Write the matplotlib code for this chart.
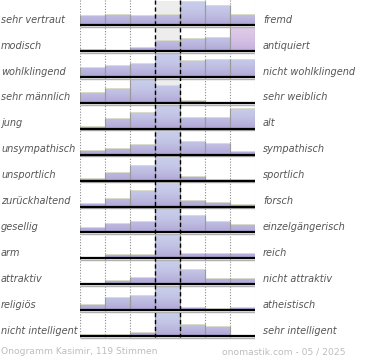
import numpy as np
import matplotlib
matplotlib.use("Agg")
import matplotlib.pyplot as plt
from matplotlib.patches import Rectangle
from matplotlib.transforms import blended_transform_factory

left_labels = ["sehr vertraut", "modisch", "wohlklingend", "sehr männlich", "jung",
               "unsympathisch", "unsportlich", "zurückhaltend", "gesellig", "arm",
               "attraktiv", "religiös", "nicht intelligent"]
right_labels = ["fremd", "antiquiert", "nicht wohlklingend", "sehr weiblich", "alt",
                "sympathisch", "sportlich", "forsch", "einzelgängerisch", "reich",
                "nicht attraktiv", "atheistisch", "sehr intelligent"]

values = [
    [10.3, 11.3, 10.0, 11.3, 24.3, 20.6, 11.6],
    [2.7, 1.3, 4.7, 11.7, 13.7, 15.0, 24.7],
    [9.6, 11.6, 13.6, 24.0, 16.6, 17.6, 18.0],
    [11.0, 15.6, 24.3, 18.3, 2.6, 0.0, 0.0],
    [3.0, 11.3, 16.7, 24.0, 12.3, 12.3, 20.7],
    [4.6, 7.0, 10.6, 24.0, 13.6, 11.6, 3.6],
    [2.7, 8.3, 15.7, 24.0, 4.7, 1.3, 1.3],
    [3.7, 9.0, 17.0, 24.0, 7.0, 5.0, 2.4],
    [5.4, 9.4, 11.4, 24.0, 17.4, 11.7, 8.4],
    [1.5, 4.0, 4.0, 24.0, 5.5, 5.0, 5.0],
    [0.5, 4.7, 7.3, 24.0, 15.0, 6.3, 6.3],
    [6.4, 12.7, 15.0, 24.0, 3.7, 1.7, 3.4],
    [1.7, 1.7, 4.0, 24.0, 11.7, 10.3, 0.0],
]
highlight = [(1, 6)]

footer_left = "Onogramm Kasimir, 119 Stimmen"
footer_right = "onomastik.com - 05 / 2025"

W, H = 370, 360
fig = plt.figure(figsize=(W / 100, H / 100), dpi=100)
row_px = 25.9
top_px, bot_px = 0.0, 345.0
ax = fig.add_axes([80 / W, (H - bot_px) / H, 175 / W, (bot_px - top_px) / H])
y_top = 1 - 25.3 / row_px
y_bot = y_top + (bot_px - top_px) / row_px
ax.set_xlim(0, 7)
ax.set_ylim(y_bot, y_top)
ax.axis("off")

full = 24.0 / row_px
nrow = len(values)

def grad(c_top, c_bot, n=64):
    t = np.linspace(0, 1, n) ** 1.8
    c1 = np.array(matplotlib.colors.to_rgb(c_top))
    c2 = np.array(matplotlib.colors.to_rgb(c_bot))
    g = c1[None, :] * (1 - t[:, None]) + c2[None, :] * t[:, None]
    return g[:, None, :]

g_norm = grad("#c8cdea", "#b0a5d6")
g_pink = grad("#dfc9e8", "#c0aedb")

for xc in [0, 1, 2, 5, 6, 7]:
    ax.vlines(xc, y_top, nrow + 0.05, colors="#8a8a8a", linewidth=0.8,
              linestyles=(0, (1, 1.5)), zorder=1)

for i, row in enumerate(values):
    base = i + 1
    mx = max(row)
    ax.add_patch(Rectangle((3, base - full), 1, full, facecolor="#ededed",
                           edgecolor="none", zorder=1.5))
    for j, v in enumerate(row):
        h = v / mx * full
        if h <= 0:
            continue
        rect = Rectangle((j, base - h), 1, h, transform=ax.transData,
                         facecolor="none", edgecolor="none")
        ax.add_patch(rect)
        g = g_pink if (i, j) in highlight else g_norm
        im = ax.imshow(g, extent=(j, j + 1, base, base - full), origin="upper",
                       aspect="auto", interpolation="bilinear", zorder=2)
        im.set_clip_path(rect)
        ax.plot([j, j + 1], [base - h, base - h], color="#dcdccc", lw=0.7, zorder=2.5)
        ax.vlines([j, j + 1], base - h, base, colors="#9a9a9a", linewidth=0.8, zorder=3)

    ax.plot([0, 7], [base + 1.6 / row_px, base + 1.6 / row_px], color="#b0b0b0",
            lw=1.0, zorder=4, solid_capstyle="butt")
    ax.plot([0, 7], [base, base], color="black", lw=1.6, zorder=5,
            solid_capstyle="butt")

for xc in [3, 4]:
    ax.vlines(xc, y_top, nrow + 0.05, colors="black", linewidth=1.0,
              linestyles=(0, (3, 2)), zorder=4.5)

ax.set_xlim(0, 7)
ax.set_ylim(y_bot, y_top)

tr = blended_transform_factory(fig.transFigure, ax.transData)
for i in range(nrow):
    yc = i + 1 - 5.5 / row_px
    ax.text(1 / W, yc, left_labels[i], transform=tr, ha="left", va="center",
            fontsize=7, style="italic", color="#555555", clip_on=False)
    ax.text(263 / W, yc, right_labels[i], transform=tr, ha="left", va="center",
            fontsize=7, style="italic", color="#555555", clip_on=False)

fig.text(1 / W, 1 - 352 / H, footer_left, ha="left", va="center", fontsize=6.6,
         color="#bdbdbd")
fig.text(346 / W, 1 - 352 / H, footer_right, ha="right", va="center", fontsize=6.6,
         color="#bdbdbd")

fig.savefig("out.png", dpi=100)
